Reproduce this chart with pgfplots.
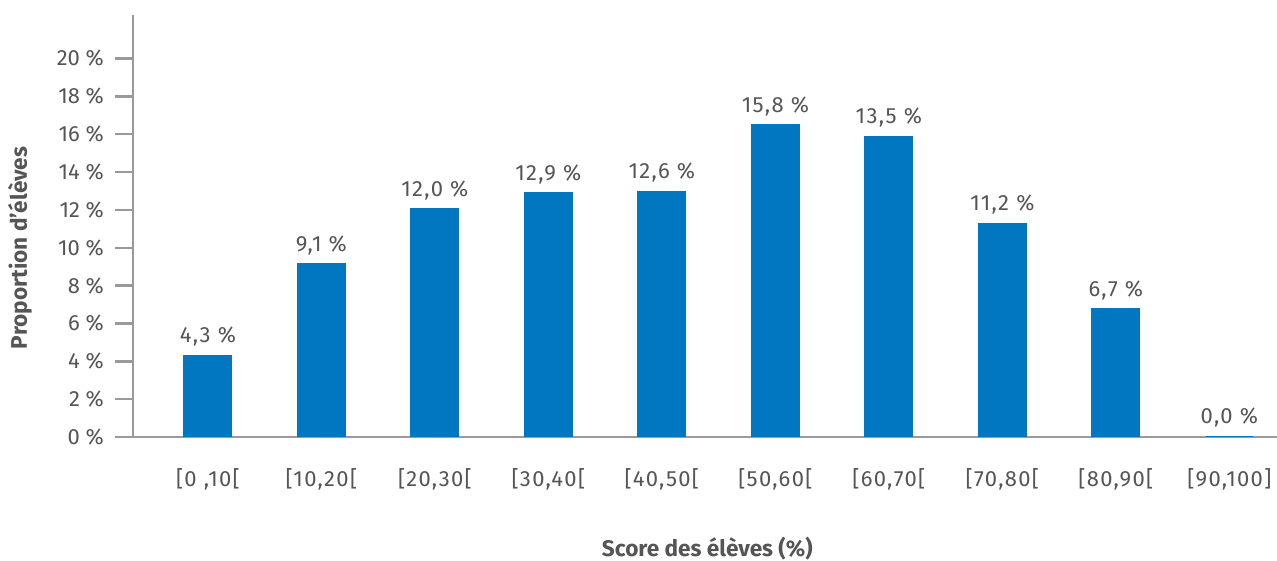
\documentclass[border=0pt]{standalone}
\usepackage{pgfplots}
\pgfplotsset{compat=1.18}
\usepackage{fontspec}
\setmainfont{Fira Sans}
\newfontfamily\widefira[LetterSpace=6]{Fira Sans}
\definecolor{barblue}{HTML}{0077C0}
\definecolor{axisgrey}{HTML}{9A9A9D}
\definecolor{textgrey}{HTML}{555555}
\begin{document}
\begin{tikzpicture}
\useasboundingbox (-66.5pt,-62pt) rectangle (572pt,218.5pt);
\begin{axis}[
    at={(0,0)}, anchor=south west,
    scale only axis,
    width=572pt, height=211pt,
    ybar, bar width=23.5pt,
    xmin=-0.66, xmax=9.42,
    ymin=0, ymax=22.3,
    axis lines=left,
    axis line style={-, axisgrey, line width=1.2pt},
    xtick={0,...,9},
    xticklabels={{[0 ,10[},{[10,20[},{[20,30[},{[30,40[},{[40,50[},{[50,60[},{[60,70[},{[70,80[},{[80,90[},{[90,100]}},
    x tick style={draw=none},
    ytick={0,2,...,20},
    yticklabels={0 \%,2 \%,4 \%,6 \%,8 \%,10 \%,12 \%,14 \%,16 \%,18 \%,20 \%},
    y tick style={axisgrey, line width=1.2pt},
    tick align=outside,
    major tick length=9pt,
    ticklabel style={font=\fontsize{11}{13}\selectfont, text=textgrey},
    yticklabel style={xshift=-2pt},
    xticklabel style={yshift=-3pt, font=\widefira\fontsize{11}{13}\selectfont},
    xlabel={Score des élèves (\%)},
    ylabel={Proportion d’élèves},
    label style={font=\bfseries\fontsize{11.3}{13}\selectfont, text=textgrey},
    xlabel style={at={(axis description cs:0.502,-0.265)}, anchor=center},
    ylabel style={at={(axis description cs:-0.0988,0.448)}, anchor=center, rotate=0},
    point meta=explicit symbolic,
    nodes near coords,
    every node near coord/.append style={font=\widefira\fontsize{11}{13}\selectfont, text=textgrey, yshift=1pt},
]
\addplot[fill=barblue, draw=barblue, line width=1pt] coordinates {
    (0,4.3) [4,3 \%]
    (1,9.12) [9,1 \%]
    (2,12.03) [12,0 \%]
    (3,12.87) [12,9 \%]
    (4,12.93) [12,6 \%]
    (5,16.47) [15,8 \%]
    (6,15.84) [13,5 \%]
    (7,11.24) [11,2 \%]
    (8,6.74) [6,7 \%]
    (9,0) [0,0 \%]
};
\end{axis}
\end{tikzpicture}
\end{document}
